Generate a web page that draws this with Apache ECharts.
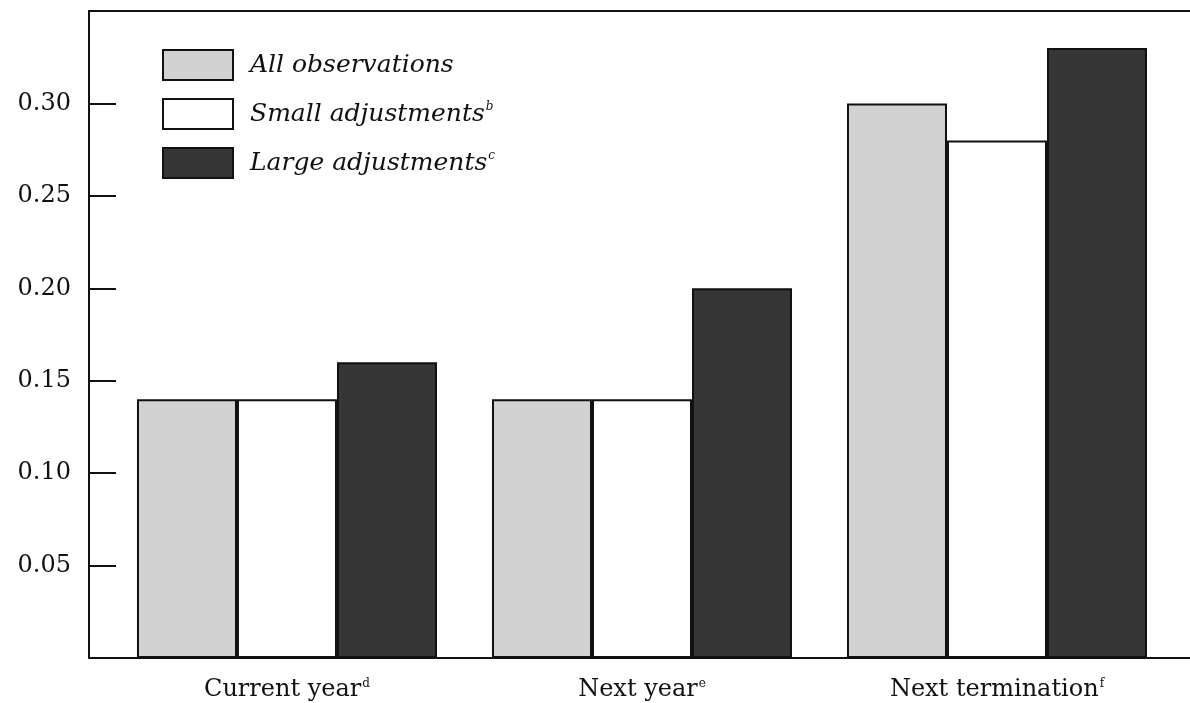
<!DOCTYPE html>
<html>
<head>
<meta charset="utf-8">
<script src="https://cdn.jsdelivr.net/npm/echarts@6/dist/echarts.min.js"></script>
<style>html,body{margin:0;padding:0;background:#fff}#c{width:1190px;height:703px}</style>
</head>
<body>
<div id="c"></div>
<script>
const categories = ['Current year', 'Next year', 'Next termination'];
const categorySup = ['d', 'e', 'f'];
const seriesNames = ['All observations', 'Small adjustments', 'Large adjustments'];
const seriesSup = ['', 'b', 'c'];
const allObservations = [0.14, 0.14, 0.30];
const smallAdjustments = [0.14, 0.14, 0.28];
const largeAdjustments = [0.16, 0.20, 0.33];
const yTicks = [0.05, 0.10, 0.15, 0.20, 0.25, 0.30];

const FONT = 'DejaVu Serif';
const colors = ['#d2d2d2', '#ffffff', '#363636'];
const values = [allObservations, smallAdjustments, largeAdjustments];

const chart = echarts.init(document.getElementById('c'));
const xMin = -0.5577, xMax = 2.5437;
const supStyle = {fontFamily: FONT, fontSize: 12, color: '#111', verticalAlign: 'top', padding: [0, 0, 12, 1]};

chart.setOption({
  animation: false,
  grid: {left: 89, right: 0, top: 11, bottom: 45},
  legend: {
    orient: 'vertical', left: 162, top: 49, padding: 0,
    itemWidth: 70, itemHeight: 30, itemGap: 17,
    icon: 'rect',
    selectedMode: false,
    data: seriesNames.map(n => ({name: n, itemStyle: {borderColor: '#111', borderWidth: 2}})),
    formatter: function (n) {
      const i = seriesNames.indexOf(n);
      return '{t|' + n + '}' + (seriesSup[i] ? '{s|' + seriesSup[i] + '}' : '');
    },
    textStyle: {
      rich: {
        t: {fontFamily: FONT, fontStyle: 'italic', fontSize: 25, color: '#111', padding: [0, 0, 0, 12]},
        s: {fontFamily: FONT, fontStyle: 'italic', fontSize: 12, color: '#111', verticalAlign: 'top', padding: [0, 0, 14, 1]}
      }
    }
  },
  xAxis: [{
    type: 'value', min: xMin, max: xMax, position: 'bottom',
    splitLine: {show: false},
    axisLine: {show: true, onZero: false, lineStyle: {color: '#111', width: 2}},
    axisTick: {show: false},
    axisLabel: {
      customValues: [0, 1, 2],
      margin: 20,
      formatter: function (v) {
        const i = Math.round(v);
        return '{t|' + categories[i] + '}{s|' + categorySup[i] + '}';
      },
      rich: {
        t: {fontFamily: FONT, fontSize: 24, color: '#111'},
        s: supStyle
      }
    }
  }, {
    type: 'value', min: xMin, max: xMax, position: 'top',
    splitLine: {show: false},
    axisLine: {show: true, onZero: false, lineStyle: {color: '#111', width: 2}},
    axisTick: {show: false}, axisLabel: {show: false}
  }],
  yAxis: {
    type: 'value', min: 0, max: 0.35, interval: 0.05,
    splitLine: {show: false},
    axisLine: {show: true, onZero: false, lineStyle: {color: '#111', width: 2}},
    axisTick: {show: true, inside: true, length: 27, lineStyle: {color: '#111', width: 2}},
    axisLabel: {
      margin: 18, fontFamily: FONT, fontSize: 24, color: '#111',
      formatter: function (v) {
        return yTicks.some(t => Math.abs(t - v) < 1e-9) ? v.toFixed(2) : '';
      }
    }
  },
  series: seriesNames.map((n, s) => ({
    name: n, type: 'bar', xAxisIndex: 0,
    barWidth: 100, barGap: '0%',
    itemStyle: {color: colors[s], borderColor: '#111', borderWidth: 2},
    data: values[s].map((v, i) => [i, v])
  }))
});
</script>
</body>
</html>
